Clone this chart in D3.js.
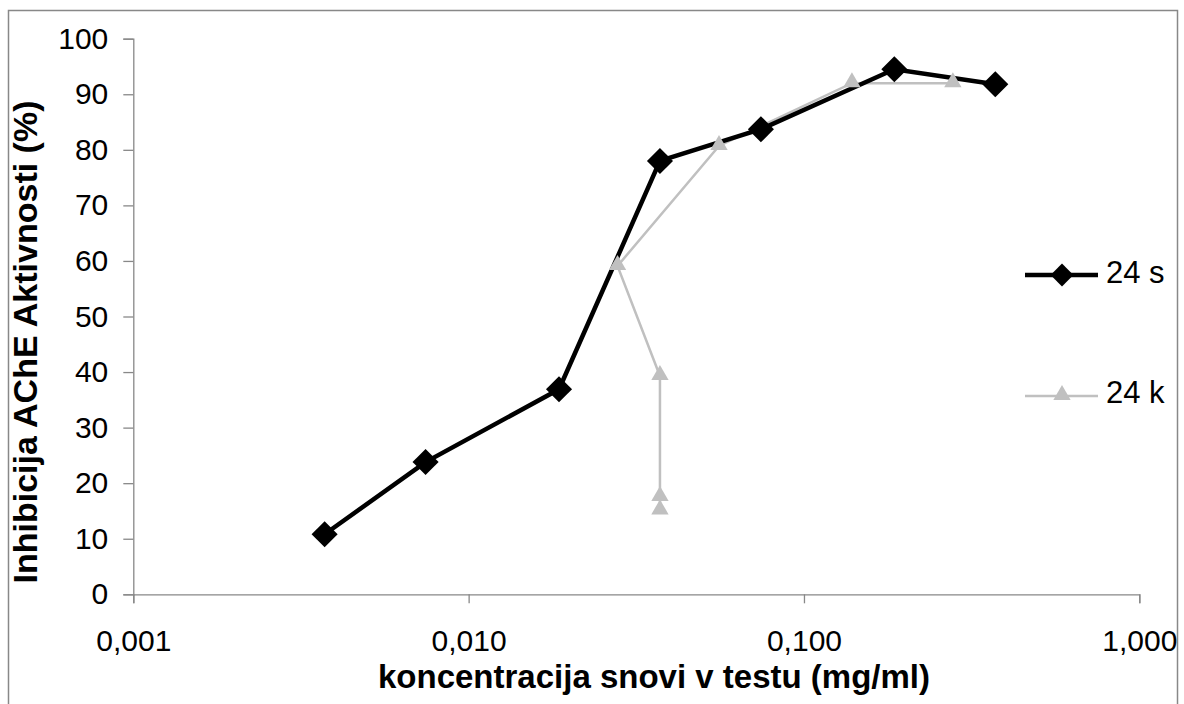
<!DOCTYPE html>
<html lang="en">
  <head>
    <meta charset="utf-8">
    <title>Inhibicija AChE</title>
    <script src="https://d3js.org/d3.v7.js"></script>
    <style>
      body { margin: 0; background: #fff; }
      text { font-family: "Liberation Sans", Arial, sans-serif; }
    </style>
  </head>

  <body>

  <script>

// data

  var conc_s = [0.00372, 0.00744, 0.0186, 0.0372, 0.0744, 0.186, 0.372];
  var inhib_s = [10.8, 23.8, 36.9, 78.0, 83.7, 94.5, 91.8];

  var conc_k = [0.0372, 0.0372, 0.0372, 0.0278, 0.0558, 0.139, 0.278];
  var inhib_k = [15.1, 17.5, 39.3, 59.1, 80.7, 92.0, 92.0];

  var seriesNames = ["24 s", "24 k"];
  var xTicks = [0.001, 0.01, 0.1, 1];
  var yTicks = d3.range(0, 101, 10);

  var w = 1184;
  var h = 704;
  var mLeft = 133.3, mRight = 1139.3, mTop = 38.7, mBottom = 594.3;

  var svg = d3.select("body")
    .append("svg")
      .attr("width", w)
      .attr("height", h);

  // outer frame
  svg.append("rect")
      .attr("x", 8.5)
      .attr("y", 10.5)
      .attr("width", 1169)
      .attr("height", 710)
      .attr("fill", "none")
      .attr("stroke", "#888")
      .attr("stroke-width", 1.5);

  var xScale = d3.scaleLog()
      .domain([0.001, 1])
      .range([mLeft, mRight]);

  var yScale = d3.scaleLinear()
      .domain([0, 100])
      .range([mBottom, mTop]);

  var fmt = d => d3.format(".3f")(d).replace(".", ",");

  var xAxis = svg.append("g")
      .attr("transform", "translate(0," + mBottom + ")")
      .call(d3.axisBottom(xScale).tickValues(xTicks).tickFormat(fmt).tickSize(9).tickPadding(0));

  var yAxis = svg.append("g")
      .attr("transform", "translate(" + mLeft + ",0)")
      .call(d3.axisLeft(yScale).tickValues(yTicks).tickSize(10).tickPadding(15));

  [xAxis, yAxis].forEach(function(a) {
    a.attr("font-size", null).attr("font-family", null);
    a.select(".domain").attr("stroke", "#888").attr("stroke-width", 1.3);
    a.selectAll(".tick line").attr("stroke", "#888").attr("stroke-width", 1.3);
    a.selectAll(".tick text")
        .attr("font-size", 30)
        .attr("fill", "#000");
  });
  xAxis.selectAll(".tick text").attr("y", 57).attr("dy", null);

  // axis titles
  svg.append("text")
      .attr("x", 654)
      .attr("y", 688)
      .attr("text-anchor", "middle")
      .attr("font-size", 33)
      .attr("font-weight", "bold")
      .text("koncentracija snovi v testu (mg/ml)");

  svg.append("text")
      .attr("transform", "translate(37,342) rotate(-90)")
      .attr("text-anchor", "middle")
      .attr("font-size", 34)
      .attr("font-weight", "bold")
      .text("Inhibicija AChE Aktivnosti (%)");

  var line = d3.line()
      .x(d => xScale(d[0]))
      .y(d => yScale(d[1]));

  var dataS = d3.zip(conc_s, inhib_s);
  var dataK = d3.zip(conc_k, inhib_k);

  var diamond = d3.symbol().type(d3.symbolSquare).size(340);
  var tri = d3.symbol().type(d3.symbolTriangle).size(130);

  // 24 k (gray)
  svg.append("path")
      .datum(dataK)
      .attr("d", line)
      .attr("fill", "none")
      .attr("stroke", "#c0c0c0")
      .attr("stroke-width", 2.5);

  // 24 s (black)
  svg.append("path")
      .datum(dataS)
      .attr("d", line)
      .attr("fill", "none")
      .attr("stroke", "#000")
      .attr("stroke-width", 4.5);

  svg.selectAll(".ptk")
      .data(dataK)
      .enter().append("path")
      .attr("class", "ptk")
      .attr("d", tri)
      .attr("transform", d => "translate(" + xScale(d[0]) + "," + (yScale(d[1]) - 1) + ")")
      .attr("fill", "#c0c0c0");

  svg.selectAll(".pts")
      .data(dataS)
      .enter().append("path")
      .attr("class", "pts")
      .attr("d", diamond)
      .attr("transform", d => "translate(" + xScale(d[0]) + "," + yScale(d[1]) + ") rotate(45)")
      .attr("fill", "#000");

  // legend
  var legend = svg.append("g");
  var legY = [275, 396];
  var legBase = [283, 403];

  legend.append("line")
      .attr("x1", 1025).attr("x2", 1098)
      .attr("y1", legY[0]).attr("y2", legY[0])
      .attr("stroke", "#000").attr("stroke-width", 4.5);
  legend.append("path")
      .attr("d", d3.symbol().type(d3.symbolSquare).size(260))
      .attr("transform", "translate(1062," + legY[0] + ") rotate(45)")
      .attr("fill", "#000");

  legend.append("line")
      .attr("x1", 1025).attr("x2", 1098)
      .attr("y1", legY[1]).attr("y2", legY[1])
      .attr("stroke", "#c0c0c0").attr("stroke-width", 2.5);
  legend.append("path")
      .attr("d", tri)
      .attr("transform", "translate(1062," + (legY[1] - 1) + ")")
      .attr("fill", "#c0c0c0");

  legend.selectAll("text")
      .data(seriesNames)
      .enter().append("text")
      .attr("x", 1106)
      .attr("y", (d, i) => legBase[i])
      .attr("font-size", 31)
      .text(d => d);

    </script>

  </body>

</html>
